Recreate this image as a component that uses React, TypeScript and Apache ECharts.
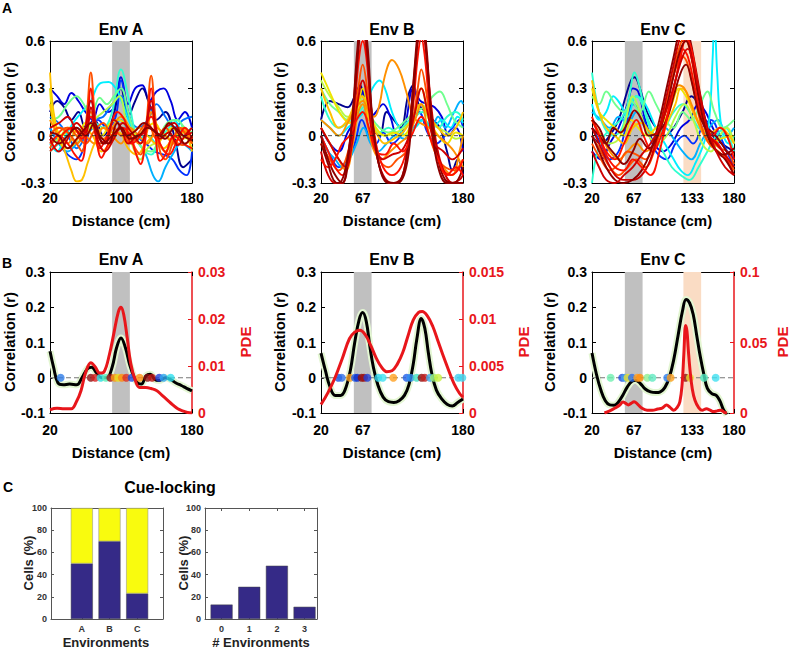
import React, { useEffect, useRef } from "react";
import * as echarts from "echarts";

const FONT = "'Liberation Sans', Arial, Helvetica, sans-serif";

// ---------------- shared labels / ticks ----------------
const envTitles = ["Env A", "Env B", "Env C"];
const xTickValues = [[20, 100, 180], [20, 67, 180], [20, 67, 133, 180]];
const cueBands = [[[90, 110]], [[57, 77]], [[57, 77]]];
const landmarkBandC = [123, 143];

// jet colormap shades (style)
const jet = ["#00008f", "#0000df", "#0030ff", "#0070ff", "#00b0ff", "#00efff", "#30ffcf", "#70ff8f",
  "#b8f848", "#f0e400", "#ffc000", "#ff9000", "#ff5000", "#ff1000", "#cf0000", "#8f0000"];

// ---------------- Panel A: single-cell correlation curves ----------------
const corrEnvA = [
  [[20,0.3],[28,0.25],[36,0.2],[44,0.27],[52,0.22],[60,0.15],[68,0.1],[76,0.2],[84,0.15],[92,0.18],[100,0.37],[108,0.2],[116,0.3],[124,0.32],[132,0.22],[140,0.28],[148,0.3],[156,0.22],[164,0.1],[172,0.15],[180,0.05]],
  [[20,0.15],[28,0.22],[36,0.18],[44,0.1],[52,0.15],[60,0.05],[70,0.1],[80,0.0],[90,0.1],[100,0.3],[108,0.12],[116,0.22],[124,0.3],[132,0.2],[140,0.1],[150,0.15],[160,0.0],[170,-0.2],[180,-0.15]],
  [[20,0.05],[30,-0.05],[40,-0.12],[50,-0.15],[58,-0.08],[66,0.05],[74,0.1],[84,0.05],[94,0.12],[100,0.35],[108,0.15],[118,0.0],[128,-0.05],[138,-0.1],[148,-0.12],[158,-0.15],[166,-0.22],[174,-0.25],[180,-0.1]],
  [[20,0.12],[30,0.08],[40,0.0],[50,-0.08],[60,0.0],[70,0.1],[80,0.12],[90,0.2],[100,0.25],[110,0.1],[120,0.05],[130,0.1],[140,0.2],[150,0.12],[160,0.05],[170,0.1],[180,0.12]],
  [[20,0.05],[30,-0.05],[40,-0.1],[50,-0.05],[60,0.0],[70,0.05],[80,-0.05],[90,0.05],[100,0.1],[110,0.0],[120,-0.05],[128,-0.12],[136,-0.25],[142,-0.29],[150,-0.2],[158,-0.12],[168,-0.05],[180,-0.1]],
  [[20,-0.05],[28,-0.1],[36,-0.02],[46,0.08],[56,0.15],[66,0.22],[76,0.33],[86,0.34],[94,0.3],[102,0.2],[110,0.08],[120,-0.02],[130,0.0],[140,-0.05],[150,0.05],[160,0.1],[170,0.02],[180,0.05]],
  [[20,-0.1],[30,-0.05],[40,0.0],[50,0.05],[60,0.02],[70,0.08],[80,0.05],[90,0.15],[100,0.42],[108,0.25],[116,0.02],[124,-0.08],[134,-0.12],[144,-0.02],[154,0.05],[164,0.1],[172,0.02],[180,-0.05]],
  [[20,0.1],[30,0.12],[40,0.2],[50,0.25],[58,0.2],[66,0.12],[76,0.24],[84,0.2],[92,0.25],[100,0.3],[108,0.15],[116,0.0],[124,-0.08],[134,-0.1],[144,0.0],[152,0.08],[162,0.1],[172,0.05],[180,0.02]],
  [[20,-0.05],[30,-0.02],[40,0.05],[50,0.0],[60,0.02],[70,0.1],[80,0.15],[90,0.2],[98,0.25],[106,0.08],[114,-0.08],[122,-0.15],[130,-0.08],[140,-0.05],[150,-0.1],[160,-0.02],[170,0.0],[180,-0.08]],
  [[20,0.4],[24,0.15],[30,0.0],[38,-0.12],[44,-0.22],[50,-0.29],[56,-0.28],[62,-0.18],[70,-0.05],[80,0.05],[90,0.02],[100,0.05],[110,0.0],[120,0.05],[130,0.0],[140,-0.05],[150,0.0],[160,-0.05],[170,0.02],[180,-0.05]],
  [[20,0.3],[26,0.05],[34,0.0],[42,0.05],[52,0.02],[60,0.08],[68,0.05],[78,0.0],[88,0.08],[98,0.1],[108,0.05],[118,0.0],[128,0.05],[138,0.08],[148,0.0],[158,0.05],[168,-0.02],[180,0.0]],
  [[20,0.2],[28,0.0],[38,-0.08],[48,-0.05],[58,0.05],[68,0.0],[78,-0.1],[88,-0.05],[98,0.02],[108,-0.08],[118,-0.12],[128,-0.05],[138,0.0],[148,-0.08],[158,-0.02],[168,0.05],[180,-0.1]],
  [[20,0.0],[30,0.05],[40,0.02],[50,-0.05],[60,0.05],[66,0.15],[72,0.05],[80,-0.02],[90,0.05],[100,0.12],[110,0.05],[120,-0.05],[128,0.0],[134,0.15],[140,0.0],[150,-0.1],[160,0.0],[170,0.05],[180,-0.05]],
  [[20,0.1],[30,0.0],[40,-0.05],[50,0.03],[60,0.0],[70,-0.05],[80,0.05],[90,0.0],[100,-0.05],[110,0.05],[120,0.0],[130,-0.05],[140,0.05],[150,0.0],[160,-0.05],[170,0.03],[180,-0.02]],
  [[20,0.0],[30,0.05],[40,0.02],[50,-0.05],[56,-0.1],[61,0.1],[66,0.4],[71,0.1],[76,-0.05],[84,-0.02],[92,0.05],[100,0.0],[108,0.02],[116,-0.08],[122,-0.12],[128,0.05],[134,0.38],[139,0.1],[144,-0.1],[150,-0.15],[158,-0.05],[166,0.05],[174,0.0],[180,-0.05]],
  [[20,-0.08],[30,0.02],[40,0.05],[50,0.0],[60,-0.05],[70,0.03],[80,0.08],[90,0.0],[100,0.05],[110,-0.05],[120,0.02],[130,0.08],[140,-0.02],[150,0.05],[160,-0.03],[170,-0.06],[180,0.0]],
  [[20,-0.05],[30,0.0],[40,-0.05],[48,-0.12],[55,-0.16],[61,0.0],[66,0.3],[71,0.05],[78,-0.14],[86,-0.05],[94,0.02],[102,0.05],[110,0.0],[116,-0.1],[122,-0.18],[128,0.0],[134,0.3],[139,0.0],[144,-0.16],[150,-0.12],[160,0.0],[170,-0.05],[180,-0.08]],
  [[20,-0.1],[28,-0.05],[36,0.02],[46,0.05],[56,-0.02],[66,0.12],[76,-0.08],[86,0.02],[96,0.15],[104,0.1],[112,-0.05],[122,0.0],[134,0.12],[144,-0.05],[154,-0.12],[164,-0.02],[172,0.05],[180,-0.02]],
  [[20,0.05],[30,0.08],[40,0.12],[48,0.05],[56,0.0],[66,0.22],[74,0.0],[82,-0.05],[92,0.1],[100,0.05],[108,-0.05],[118,0.0],[126,0.02],[134,0.22],[142,0.0],[150,0.05],[160,0.08],[170,0.0],[180,0.02]],
  [[20,-0.02],[30,-0.1],[40,-0.02],[50,0.08],[60,0.02],[66,0.18],[72,0.0],[82,-0.1],[92,-0.02],[102,0.08],[112,0.02],[122,-0.05],[134,0.18],[144,-0.02],[154,0.02],[164,-0.06],[172,0.0],[180,0.05]],
  [[20,0.0],[30,-0.05],[40,0.0],[50,0.05],[60,0.0],[70,0.08],[80,-0.05],[90,0.0],[100,0.05],[110,-0.02],[120,0.0],[130,0.05],[140,0.02],[150,-0.02],[160,0.05],[170,0.0],[180,-0.03]],
  [[20,0.02],[30,0.0],[40,-0.08],[50,-0.02],[60,0.05],[66,0.08],[76,0.0],[86,-0.05],[96,0.08],[106,0.0],[116,0.03],[126,0.08],[134,0.05],[144,0.0],[154,0.08],[164,0.02],[172,-0.05],[180,0.0]],
];
const corrEnvAColor = [1, 0, 2, 3, 4, 5, 6, 7, 8, 10, 9, 10, 11, 11, 12, 12, 13, 13, 14, 14, 15, 15];

const corrEnvB = [
  [[20,0.1],[30,0.22],[40,0.2],[50,0.18],[58,0.25],[64,0.32],[70,0.2],[78,0.05],[86,0.0],[94,0.15],[102,0.1],[110,0.05],[118,0.25],[124,0.32],[130,0.2],[138,0.15],[146,0.1],[154,0.05],[162,-0.1],[168,-0.22],[174,-0.15],[180,-0.25]],
  [[20,0.05],[30,-0.05],[40,-0.1],[50,0.02],[60,0.12],[67,0.28],[74,0.1],[82,0.15],[90,0.2],[98,0.12],[106,0.0],[114,0.05],[124,0.3],[132,0.22],[140,0.2],[148,0.18],[156,0.12],[164,0.0],[172,0.05],[180,-0.1]],
  [[20,0.0],[30,-0.12],[40,-0.2],[50,-0.15],[58,-0.05],[66,0.1],[74,0.0],[82,-0.05],[90,0.02],[100,-0.05],[110,0.0],[120,0.1],[130,0.15],[140,0.02],[150,-0.05],[160,0.0],[168,0.05],[176,0.1],[180,0.05]],
  [[20,0.0],[28,-0.1],[36,-0.15],[44,-0.2],[52,-0.15],[60,-0.05],[68,0.05],[76,-0.05],[84,-0.1],[94,-0.05],[104,0.0],[114,-0.02],[124,0.05],[134,0.1],[144,0.05],[152,0.12],[160,0.05],[170,0.15],[178,0.22],[180,0.2]],
  [[20,0.1],[30,0.05],[40,0.0],[50,0.05],[60,0.1],[68,0.15],[74,0.25],[80,0.32],[86,0.35],[92,0.3],[100,0.15],[108,0.05],[116,0.0],[126,0.05],[136,0.1],[146,0.05],[156,0.1],[166,0.05],[174,0.12],[180,0.08]],
  [[20,0.25],[30,0.1],[40,0.05],[50,0.08],[60,0.12],[68,0.18],[76,0.1],[86,0.02],[96,0.05],[106,0.02],[116,0.08],[126,0.12],[134,0.15],[144,0.1],[152,0.05],[162,0.12],[172,0.15],[180,0.1]],
  [[20,0.3],[30,0.2],[40,0.15],[50,0.1],[60,0.15],[68,0.2],[76,0.12],[86,0.05],[96,0.02],[106,0.05],[116,0.1],[126,0.15],[136,0.18],[146,0.25],[154,0.28],[162,0.2],[170,0.1],[180,0.05]],
  [[20,0.35],[30,0.25],[40,0.18],[50,0.12],[60,0.15],[67,0.25],[74,0.12],[84,0.02],[94,0.0],[104,0.02],[114,0.05],[124,0.12],[133,0.2],[142,0.1],[152,0.05],[162,0.02],[172,-0.02],[180,0.0]],
  [[20,0.4],[28,0.3],[36,0.2],[44,0.12],[52,0.08],[60,0.15],[67,0.3],[74,0.15],[82,0.05],[92,0.0],[102,0.02],[112,0.0],[122,0.08],[133,0.3],[142,0.1],[152,0.0],[162,-0.05],[172,0.02],[180,0.0]],
  [[20,0.3],[30,0.15],[40,0.05],[50,0.1],[58,0.2],[66,0.25],[74,0.1],[82,0.02],[92,-0.05],[102,-0.02],[112,0.02],[122,0.1],[132,0.2],[142,0.12],[152,0.05],[162,0.0],[172,0.05],[180,0.15]],
  [[20,0.1],[30,0.05],[40,0.0],[50,0.08],[60,0.18],[67,0.22],[74,0.15],[80,0.12],[86,0.2],[92,0.38],[100,0.48],[108,0.42],[116,0.28],[124,0.12],[132,0.08],[142,0.05],[152,0.0],[162,-0.05],[170,-0.1],[180,-0.2]],
  [[20,0.05],[30,-0.05],[40,-0.15],[48,-0.22],[56,-0.05],[62,0.15],[67,0.2],[73,0.05],[80,-0.1],[88,-0.15],[98,-0.1],[108,-0.05],[118,0.0],[126,0.1],[133,0.2],[140,0.05],[148,-0.1],[158,-0.2],[168,-0.25],[176,-0.1],[180,0.0]],
  [[20,-0.05],[30,-0.15],[40,-0.22],[48,-0.15],[56,0.05],[62,0.3],[67,0.45],[72,0.3],[78,0.05],[86,-0.15],[96,-0.2],[106,-0.15],[116,-0.1],[124,0.1],[129,0.3],[133,0.42],[138,0.3],[144,0.05],[152,-0.15],[160,-0.2],[170,-0.22],[180,-0.15]],
  [[20,0.0],[28,-0.1],[36,-0.2],[44,-0.25],[52,-0.1],[58,0.2],[63,0.5],[67,0.6],[71,0.5],[76,0.2],[82,-0.05],[90,-0.2],[100,-0.25],[110,-0.2],[118,-0.05],[124,0.2],[129,0.5],[133,0.62],[137,0.5],[142,0.2],[148,-0.05],[156,-0.2],[166,-0.25],[174,-0.22],[180,-0.15]],
  [[20,-0.1],[28,-0.25],[36,-0.3],[44,-0.3],[50,-0.15],[56,0.15],[61,0.5],[66,0.7],[71,0.55],[76,0.2],[82,-0.1],[90,-0.25],[100,-0.3],[110,-0.28],[117,-0.1],[123,0.25],[128,0.55],[133,0.7],[138,0.55],[144,0.2],[150,-0.05],[158,-0.22],[168,-0.3],[176,-0.28],[180,-0.25]],
  [[20,0.0],[28,-0.15],[36,-0.25],[44,-0.3],[52,-0.1],[58,0.25],[63,0.6],[67,0.75],[72,0.55],[77,0.15],[84,-0.15],[92,-0.28],[102,-0.3],[112,-0.25],[119,0.0],[125,0.4],[130,0.7],[134,0.75],[139,0.5],[145,0.1],[152,-0.15],[160,-0.28],[170,-0.3],[180,-0.2]],
  [[20,0.05],[30,-0.05],[40,-0.15],[48,-0.2],[55,-0.05],[61,0.2],[67,0.35],[73,0.2],[80,-0.05],[90,-0.15],[100,-0.12],[110,-0.1],[118,-0.02],[126,0.15],[133,0.3],[140,0.15],[148,-0.05],[158,-0.1],[168,-0.15],[180,-0.08]],
  [[20,-0.15],[28,-0.2],[36,-0.15],[44,-0.05],[52,0.0],[60,0.1],[67,0.15],[74,0.05],[82,-0.1],[92,-0.12],[102,-0.05],[112,-0.1],[122,0.0],[133,0.12],[142,0.0],[152,-0.15],[162,-0.25],[172,-0.2],[180,-0.25]],
  [[20,-0.05],[28,-0.18],[34,-0.28],[40,-0.3],[48,-0.2],[55,0.1],[61,0.55],[66,0.8],[72,0.6],[78,0.1],[86,-0.2],[96,-0.3],[106,-0.3],[116,-0.2],[122,0.1],[128,0.55],[133,0.8],[139,0.55],[145,0.05],[152,-0.2],[162,-0.3],[172,-0.3],[180,-0.3]],
];
const corrEnvBColor = [0, 1, 2, 4, 5, 6, 7, 8, 9, 10, 11, 11, 12, 13, 14, 15, 14, 13, 15];

const corrEnvC = [
  [[20,0.0],[30,-0.05],[40,0.0],[50,0.1],[58,0.25],[64,0.35],[68,0.37],[74,0.3],[82,0.15],[92,0.05],[102,0.0],[112,0.05],[122,0.15],[132,0.25],[140,0.2],[148,0.1],[156,0.0],[166,-0.05],[180,-0.1]],
  [[20,-0.1],[30,-0.15],[40,-0.05],[50,0.05],[60,0.2],[66,0.3],[72,0.28],[80,0.1],[90,-0.05],[100,-0.1],[110,-0.05],[120,0.05],[130,0.1],[140,0.2],[148,0.15],[156,0.05],[166,-0.05],[180,-0.15]],
  [[20,0.05],[30,-0.05],[40,-0.15],[50,-0.1],[58,0.05],[66,0.2],[74,0.15],[82,0.05],[92,-0.1],[104,-0.15],[114,-0.05],[124,0.0],[134,-0.05],[144,0.05],[154,0.1],[164,0.0],[172,-0.1],[180,-0.2]],
  [[20,0.15],[30,0.1],[40,0.05],[50,0.12],[60,0.08],[70,0.15],[80,0.05],[92,0.0],[102,0.05],[112,-0.02],[122,-0.1],[132,-0.15],[142,-0.05],[152,0.05],[162,0.1],[172,0.0],[180,0.05]],
  [[20,0.2],[28,0.1],[36,0.15],[44,0.25],[52,0.2],[60,0.12],[70,0.25],[80,0.2],[92,0.05],[102,-0.05],[112,-0.15],[120,-0.22],[128,-0.25],[136,-0.18],[146,-0.05],[152,0.1],[156,0.5],[158,0.75],[161,0.4],[166,0.05],[174,-0.05],[180,0.0]],
  [[20,-0.3],[26,-0.1],[34,0.0],[42,0.05],[52,0.1],[62,0.2],[70,0.25],[80,0.15],[90,0.0],[100,-0.1],[110,-0.2],[120,-0.25],[130,-0.28],[140,-0.2],[150,-0.1],[160,0.0],[170,0.05],[180,-0.05]],
  [[20,0.4],[26,0.2],[34,0.05],[44,0.0],[54,0.05],[62,0.25],[68,0.4],[74,0.3],[82,0.1],[92,0.0],[102,0.05],[112,0.15],[122,0.2],[130,0.15],[140,0.05],[150,0.02],[158,-0.05],[170,0.0],[180,-0.1]],
  [[20,0.25],[28,0.2],[36,0.28],[46,0.2],[56,0.15],[64,0.22],[74,0.15],[84,0.28],[92,0.2],[102,0.1],[112,0.05],[122,0.15],[132,0.1],[142,0.2],[150,0.28],[158,0.15],[168,0.05],[180,0.1]],
  [[20,0.1],[30,0.0],[40,-0.05],[50,-0.02],[58,0.1],[66,0.25],[74,0.15],[84,0.0],[94,-0.05],[104,0.0],[114,0.12],[124,0.2],[134,0.1],[144,-0.05],[154,-0.1],[164,0.0],[172,0.05],[180,-0.05]],
  [[20,0.3],[28,0.15],[36,0.1],[46,0.05],[56,0.0],[64,0.1],[72,0.05],[82,0.0],[92,0.05],[102,0.1],[110,0.2],[118,0.3],[126,0.25],[134,0.15],[144,0.05],[154,-0.05],[164,-0.02],[180,0.0]],
  [[20,0.35],[28,0.15],[36,0.05],[46,0.0],[56,-0.05],[66,0.05],[76,0.08],[86,0.02],[96,0.0],[106,0.1],[114,0.2],[120,0.3],[126,0.28],[134,0.15],[144,0.05],[154,0.02],[164,0.05],[180,-0.05]],
  [[20,0.1],[30,0.0],[40,-0.1],[50,-0.15],[60,-0.1],[70,-0.05],[80,-0.1],[90,-0.05],[100,0.1],[110,0.25],[118,0.32],[124,0.3],[132,0.2],[142,0.05],[152,-0.05],[162,-0.1],[172,-0.15],[180,-0.2]],
  [[20,0.0],[30,-0.1],[40,-0.2],[50,-0.25],[60,-0.2],[70,-0.15],[80,-0.2],[90,-0.1],[100,0.1],[108,0.3],[116,0.45],[122,0.5],[128,0.45],[136,0.25],[144,0.05],[152,-0.05],[162,-0.1],[172,-0.15],[180,-0.22]],
  [[20,-0.05],[30,-0.15],[40,-0.22],[50,-0.18],[60,-0.1],[70,-0.12],[80,-0.15],[90,-0.05],[100,0.12],[110,0.35],[118,0.55],[124,0.62],[130,0.55],[138,0.3],[146,0.1],[154,-0.02],[164,-0.08],[172,-0.1],[180,-0.18]],
  [[20,0.1],[28,0.0],[36,-0.1],[46,-0.15],[56,-0.05],[64,0.05],[70,0.1],[78,0.0],[88,-0.1],[98,0.0],[108,0.2],[116,0.4],[122,0.55],[128,0.5],[136,0.3],[144,0.1],[152,0.0],[162,-0.05],[172,-0.15],[180,-0.25]],
  [[20,0.05],[28,-0.05],[36,-0.15],[46,-0.25],[56,-0.28],[66,-0.28],[76,-0.25],[86,-0.15],[96,0.05],[104,0.25],[112,0.45],[118,0.6],[124,0.68],[130,0.6],[136,0.4],[144,0.15],[152,0.0],[160,-0.05],[170,-0.12],[180,-0.2]],
  [[20,0.0],[28,-0.1],[36,-0.2],[46,-0.28],[56,-0.3],[66,-0.28],[76,-0.22],[86,-0.1],[96,0.1],[104,0.3],[112,0.5],[118,0.65],[124,0.72],[130,0.62],[136,0.45],[144,0.2],[152,0.0],[160,-0.1],[170,-0.15],[180,-0.25]],
  [[20,0.05],[28,0.0],[36,-0.05],[44,0.05],[52,0.02],[60,0.08],[68,0.16],[76,0.1],[84,0.0],[94,0.02],[104,0.1],[112,0.25],[120,0.4],[126,0.45],[132,0.35],[140,0.15],[148,0.05],[156,0.02],[166,-0.05],[176,-0.12],[180,-0.1]],
  [[20,0.12],[28,0.0],[36,-0.12],[46,-0.2],[56,-0.22],[66,-0.15],[76,-0.2],[86,-0.25],[96,-0.1],[106,0.15],[114,0.35],[120,0.5],[126,0.62],[132,0.55],[140,0.3],[148,0.08],[156,0.0],[164,0.05],[172,0.0],[180,-0.15]],
  [[20,0.1],[28,0.05],[36,-0.05],[46,-0.12],[56,-0.18],[66,-0.1],[74,-0.02],[84,-0.08],[94,0.0],[104,0.18],[112,0.38],[120,0.55],[126,0.6],[132,0.5],[140,0.25],[150,0.0],[158,-0.08],[168,-0.12],[180,-0.08]],
  [[20,-0.1],[28,-0.2],[36,-0.28],[46,-0.3],[56,-0.25],[66,-0.2],[76,-0.12],[86,-0.05],[96,0.05],[106,0.2],[114,0.35],[122,0.5],[128,0.55],[134,0.45],[142,0.25],[150,0.05],[160,-0.1],[170,-0.2],[180,-0.25]],
];
const corrEnvCColor = [0, 1, 2, 4, 5, 6, 6, 7, 8, 9, 10, 11, 12, 12, 13, 14, 15, 15, 13, 15, 14];

// ---------------- Panel B: population mean correlation and PDE ----------------
const meanCorrA = [[20,0.075],[24,0.03],[29,-0.015],[35,-0.02],[42,-0.018],[50,-0.02],[56,0.0],[62,0.025],[67,0.03],[72,0.015],[78,0.0],[84,0.0],[90,0.03],[95,0.085],[100,0.113],[105,0.085],[110,0.035],[115,0.0],[119,-0.015],[123,-0.018],[128,0.005],[133,0.01],[138,-0.005],[143,-0.008],[150,0.0],[156,-0.005],[162,-0.015],[168,-0.022],[174,-0.03],[180,-0.037]];
const pdeA = [[20,0.0007],[28,0.001],[36,0.0009],[44,0.0009],[50,0.0025],[55,0.0048],[60,0.0085],[66,0.0107],[71,0.0098],[76,0.0085],[81,0.0088],[87,0.0125],[92,0.017],[97,0.0215],[100,0.0225],[103,0.021],[107,0.016],[111,0.0105],[116,0.007],[121,0.0054],[128,0.0054],[134,0.0052],[140,0.0048],[146,0.0038],[152,0.0028],[158,0.0018],[164,0.0009],[170,0.0004],[175,0.0001],[180,0.0]];
const meanCorrB = [[20,0.07],[25,0.02],[30,-0.025],[36,-0.05],[42,-0.05],[47,-0.035],[53,0.02],[58,0.1],[63,0.165],[67,0.185],[71,0.16],[75,0.09],[79,0.03],[84,-0.02],[90,-0.055],[96,-0.068],[102,-0.07],[108,-0.065],[114,-0.05],[119,-0.02],[124,0.04],[128,0.11],[133,0.168],[137,0.14],[141,0.07],[145,0.01],[150,-0.035],[156,-0.06],[162,-0.075],[168,-0.08],[174,-0.07],[180,-0.06]];
const pdeB = [[20,0.0009],[28,0.0022],[36,0.0038],[44,0.0058],[52,0.0079],[58,0.0086],[64,0.0088],[70,0.0083],[76,0.0072],[82,0.0059],[88,0.0049],[94,0.0044],[100,0.0045],[106,0.0052],[112,0.0064],[118,0.0082],[124,0.0099],[130,0.0107],[134,0.0108],[140,0.0103],[146,0.0092],[152,0.0076],[158,0.006],[164,0.0045],[170,0.0031],[176,0.0021],[180,0.0017]];
const meanCorrC = [[20,0.07],[25,0.01],[30,-0.035],[35,-0.065],[40,-0.077],[45,-0.078],[50,-0.068],[55,-0.048],[60,-0.025],[65,-0.01],[69,-0.007],[74,-0.015],[80,-0.032],[86,-0.04],[92,-0.042],[97,-0.04],[102,-0.028],[107,0.0],[112,0.05],[117,0.12],[122,0.19],[126,0.222],[130,0.212],[134,0.18],[138,0.12],[142,0.06],[146,0.01],[150,-0.03],[155,-0.045],[160,-0.05],[164,-0.065],[168,-0.09],[172,-0.105]];
const pdeC = [[34,0.0],[40,0.0015],[46,0.0035],[51,0.0055],[55,0.0078],[58,0.0068],[61,0.0057],[64,0.0068],[67.5,0.008],[71,0.0065],[76,0.0035],[82,0.002],[88,0.002],[94,0.0028],[99,0.0035],[104,0.0057],[108,0.004],[112,0.002],[116,0.004],[119,0.008],[121.5,0.02],[123.5,0.042],[125.5,0.062],[127,0.058],[128.5,0.045],[130.5,0.03],[133,0.017],[136,0.009],[140,0.004],[144,0.002],[149,0.003],[153,0.002],[157,0.001],[161,0.0015],[165,0.002],[169,0.0005],[172,0.0]];
const pdeMax = [0.03, 0.015, 0.1];
const pdeStep = [0.01, 0.005, 0.05];

// peak locations of individual cells (x, cm) with their colours
const peakXA = [32, 66, 71, 77, 83, 88, 93, 97, 101, 106, 112, 121, 130, 135, 143, 148, 156];
const peakColA = ["#2f7de8", "#8f1010", "#d42020", "#30e0e8", "#60f0c0", "#9a1010", "#ff9a10", "#e8e020", "#ff8a10", "#e03020", "#2050e0", "#ff9010", "#8f1010", "#c01818", "#2040d8", "#30a8f0", "#30e0f0"];
const peakXB = [39.5, 43.3, 52.7, 58.3, 61, 65.8, 68.5, 72.2, 84.6, 89.5, 101.5, 116.5, 121, 127.8, 133.4, 137, 142.8, 147.3, 152, 174.7, 179.2];
const peakColB = ["#2050e0", "#3070e8", "#ffa020", "#2060e8", "#1030d0", "#8f1010", "#a01010", "#2040d8", "#30d8f0", "#40e0f0", "#ffa020", "#2060e8", "#3090f0", "#40e0c0", "#8f1010", "#c02020", "#40b0f0", "#a0f070", "#c8f040", "#40d0f0", "#40d8f0"];
const peakXC = [41, 54, 57, 60, 65, 71, 74, 82.3, 88, 104.8, 108.6, 125.5, 130.4, 146.2, 159.4];
const peakColC = ["#70f0b0", "#2050e0", "#40a0f0", "#e8e030", "#3070e8", "#ffa020", "#ff9010", "#90f090", "#60e8c0", "#3080f0", "#ffa020", "#8f1010", "#e8e030", "#50e8c0", "#40e0f0"];

// ---------------- Panel C: cue-locking ----------------
const envLetters = ["A", "B", "C"];
const cueLockedPct = [50, 70, 23];
const notLockedPct = [50, 30, 77];
const nEnvLabels = [0, 1, 2, 3];
const nEnvCellsPct = [13, 29, 48, 11];

const RED = "#e8161b";

function buildOption() {
  const grids = [
    { left: 50, top: 41, width: 142, height: 142 },
    { left: 321, top: 41, width: 142, height: 142 },
    { left: 592, top: 41, width: 142, height: 142 },
    { left: 50, top: 272, width: 142, height: 141 },
    { left: 321, top: 272, width: 142, height: 141 },
    { left: 592, top: 272, width: 142, height: 141 },
    { left: 51, top: 508, width: 112, height: 111 },
    { left: 205, top: 508, width: 112, height: 111 },
    { left: 68, top: 508, width: 83, height: 111 },
  ];
  const xAxis: any[] = [];
  const yAxis: any[] = [];
  const series: any[] = [];
  const fmt = (v: number) => String(+Number(v).toFixed(4));
  const tick = (color: string, len = 4, extra: any = {}) => ({ show: true, inside: true, length: len, lineStyle: { color, width: 1 }, ...extra });
  const line = (color: string, width = 1) => ({ show: true, onZero: false, lineStyle: { color, width } });
  const lab = (size: number, color: string, extra: any = {}) => ({ color, fontFamily: FONT, fontWeight: "bold", fontSize: size, ...extra });

  const corrSets = [corrEnvA, corrEnvB, corrEnvC];
  const corrColors = [corrEnvAColor, corrEnvBColor, corrEnvCColor];
  const meanSets = [meanCorrA, meanCorrB, meanCorrC];
  const pdeSets = [pdeA, pdeB, pdeC];
  const peakX = [peakXA, peakXB, peakXC];
  const peakCol = [peakColA, peakColB, peakColC];

  for (let r = 0; r < 2; r++) {
    for (let e = 0; e < 3; e++) {
      const g = r * 3 + e;
      const ticks = xTickValues[e];
      const baseX = { type: "value", gridIndex: g, min: 20, max: 180, splitLine: { show: false }, axisLine: line("#000") };
      xAxis.push({ ...baseX, position: "bottom", axisTick: tick("#000", 4, { customValues: ticks }),
        axisLabel: lab(14, "#000", { customValues: ticks, formatter: (v: number) => String(v), margin: r === 0 ? 8 : 10 }) });
      xAxis.push({ ...baseX, position: "top", axisTick: tick("#000", 4, { customValues: ticks }), axisLabel: { show: false } });
      const yr = r === 0 ? { min: -0.3, max: 0.6, interval: 0.3 } : { min: -0.1, max: 0.3, interval: 0.1 };
      yAxis.push({ type: "value", gridIndex: g, position: "left", ...yr, splitLine: { show: false }, axisLine: line("#000"),
        axisTick: tick("#000"), axisLabel: lab(14, "#000", { formatter: fmt, margin: 5 }) });
      if (r === 0) {
        yAxis.push({ type: "value", gridIndex: g, position: "right", ...yr, splitLine: { show: false }, axisLine: line("#000"),
          axisTick: tick("#000"), axisLabel: { show: false } });
      } else {
        yAxis.push({ type: "value", gridIndex: g, position: "right", min: 0, max: pdeMax[e], interval: pdeStep[e], splitLine: { show: false },
          axisLine: line(RED, 1.5), axisTick: tick(RED), axisLabel: lab(14, RED, { formatter: fmt, margin: 6 }) });
      }

      const xi = 2 * g;
      const bands: any[] = cueBands[e].map(([a, b]) => [{ xAxis: a }, { xAxis: b }]);
      if (e === 2) bands.push([{ xAxis: landmarkBandC[0], itemStyle: { color: "#fadcc4" } }, { xAxis: landmarkBandC[1] }]);
      series.push({ type: "line", xAxisIndex: xi, yAxisIndex: xi, data: [[20, 0]], symbol: "none", silent: true, z: 1,
        lineStyle: { opacity: 0 }, markArea: { silent: true, itemStyle: { color: "#c0c0c0" }, data: bands } });

      if (r === 0) {
        corrSets[e].forEach((d, i) => {
          series.push({ type: "line", xAxisIndex: xi, yAxisIndex: xi, data: d, smooth: 0.4, symbol: "none", silent: true, z: 2,
            lineStyle: { color: jet[corrColors[e][i]], width: 1.9 } });
        });
        series.push({ type: "line", xAxisIndex: xi, yAxisIndex: xi, data: [[20, 0], [180, 0]], symbol: "none", silent: true, z: 3,
          lineStyle: { color: "#222", width: 0.8, type: [4, 3] } });
      } else {
        series.push({ type: "line", xAxisIndex: xi, yAxisIndex: xi, data: meanSets[e], smooth: 0.4, symbol: "none", silent: true, z: 2,
          lineStyle: { color: "#e3f6d2", width: 7 } });
        series.push({ type: "line", xAxisIndex: xi, yAxisIndex: xi, data: [[20, 0], [180, 0]], symbol: "none", silent: true, z: 2,
          lineStyle: { color: "#777", width: 1, type: [5, 3] } });
        series.push({ type: "line", xAxisIndex: xi, yAxisIndex: xi, data: meanSets[e], smooth: 0.4, symbol: "none", silent: true, z: 3,
          lineStyle: { color: "#000", width: 3 } });
        series.push({ type: "scatter", xAxisIndex: xi, yAxisIndex: xi, symbolSize: 8, silent: true, z: 4,
          data: peakX[e].map((x, i) => ({ value: [x, 0], itemStyle: { color: peakCol[e][i] } })) });
        series.push({ type: "line", xAxisIndex: xi, yAxisIndex: xi + 1, data: pdeSets[e], smooth: 0.4, symbol: "none", silent: true, z: 5,
          lineStyle: { color: RED, width: 3 } });
      }
    }
  }

  // Panel C frames (value axes)
  const cFrames = [
    { g: 6, min: -0.15, max: 3.95, ticks: null as any, fmtX: null as any },
    { g: 7, min: -0.6, max: 3.45, ticks: nEnvLabels, fmtX: (v: number) => String(Math.round(v)) },
  ];
  cFrames.forEach((c) => {
    const baseX = { type: "value", gridIndex: c.g, min: c.min, max: c.max, splitLine: { show: false }, axisLine: line("#555") };
    if (c.ticks) {
      xAxis.push({ ...baseX, position: "bottom", axisTick: tick("#555", 3, { customValues: c.ticks }),
        axisLabel: lab(9, "#333", { customValues: c.ticks, formatter: c.fmtX, margin: 5 }) });
      xAxis.push({ ...baseX, position: "top", axisTick: tick("#555", 3, { customValues: c.ticks }), axisLabel: { show: false } });
    } else {
      xAxis.push({ ...baseX, position: "bottom", axisTick: { show: false }, axisLabel: { show: false } });
      xAxis.push({ ...baseX, position: "top", axisTick: { show: false }, axisLabel: { show: false } });
    }
    const baseY = { type: "value", gridIndex: c.g, min: 0, max: 100, interval: 20, splitLine: { show: false }, axisLine: line("#555") };
    yAxis.push({ ...baseY, position: "left", axisTick: tick("#555", 3), axisLabel: lab(9, "#333", { margin: 4 }) });
    yAxis.push({ ...baseY, position: "right", axisTick: tick("#555", 3), axisLabel: { show: false } });
  });
  // category axes for the stacked environment bars (index 16)
  xAxis.push({ type: "category", gridIndex: 8, data: envLetters, position: "bottom", axisLine: { show: false },
    axisTick: { show: true, inside: true, length: 3, alignWithLabel: true, lineStyle: { color: "#555" } },
    axisLabel: lab(9, "#333", { margin: 5 }), splitLine: { show: false } });
  yAxis.push({ type: "value", gridIndex: 8, min: 0, max: 100, show: false });

  series.push({ type: "bar", xAxisIndex: 16, yAxisIndex: 16, stack: "cue", barWidth: 22, silent: true,
    data: cueLockedPct, itemStyle: { color: "#352a87", borderColor: "#444", borderWidth: 0.5 } });
  series.push({ type: "bar", xAxisIndex: 16, yAxisIndex: 16, stack: "cue", barWidth: 22, silent: true,
    data: notLockedPct, itemStyle: { color: "#f9fb0e", borderColor: "#888", borderWidth: 0.5 } });
  series.push({ type: "bar", xAxisIndex: 14, yAxisIndex: 14, barWidth: 22, silent: true,
    data: nEnvLabels.map((x, i) => [x, nEnvCellsPct[i]]), itemStyle: { color: "#352a87", borderColor: "#444", borderWidth: 0.5 } });

  // Texts
  const T = (x: number, y: number, text: string, size: number, fill = "#000", rot = 0) => ({
    type: "text", x, y, rotation: rot, silent: true,
    style: { text, fontFamily: FONT, fontWeight: "bold", fontSize: size, fill, align: "center", verticalAlign: "middle" },
  });
  const gx = [121, 392, 663];
  const corrX = [9, 279, 549];
  const pdeX = [245, 523, 782];
  const graphics: any[] = [
    T(7, 8, "A", 14), T(7, 263, "B", 14), T(8, 487, "C", 14),
    T(170, 487, "Cue-locking", 16),
    T(28, 563, "Cells (%)", 13, "#222", Math.PI / 2),
    T(183, 563, "Cells (%)", 13, "#222", Math.PI / 2),
    T(106, 642, "Environments", 13, "#222"),
    T(261, 642, "# Environments", 13, "#222"),
  ];
  for (let e = 0; e < 3; e++) {
    graphics.push(T(gx[e], 29, envTitles[e], 16));
    graphics.push(T(gx[e], 259, envTitles[e], 16));
    graphics.push(T(corrX[e], 112, "Correlation (r)", 15, "#000", Math.PI / 2));
    graphics.push(T(corrX[e], 342, "Correlation (r)", 15, "#000", Math.PI / 2));
    graphics.push(T(gx[e], 220, "Distance (cm)", 15));
    graphics.push(T(gx[e], 452, "Distance (cm)", 15));
    graphics.push(T(pdeX[e], 342, "PDE", 15, RED, Math.PI / 2));
  }

  return {
    animation: false,
    backgroundColor: "#fff",
    grid: grids.map((g) => ({ ...g, containLabel: false })),
    xAxis,
    yAxis,
    series,
    graphic: graphics,
  };
}

export default function App() {
  const ref = useRef<HTMLDivElement>(null);
  useEffect(() => {
    if (!ref.current) return;
    const chart = echarts.init(ref.current, null, { renderer: "svg" });
    chart.setOption(buildOption() as any);
    return () => chart.dispose();
  }, []);
  return <div ref={ref} style={{ position: "fixed", left: 0, top: 0, width: 791, height: 648, background: "#fff" }} />;
}
